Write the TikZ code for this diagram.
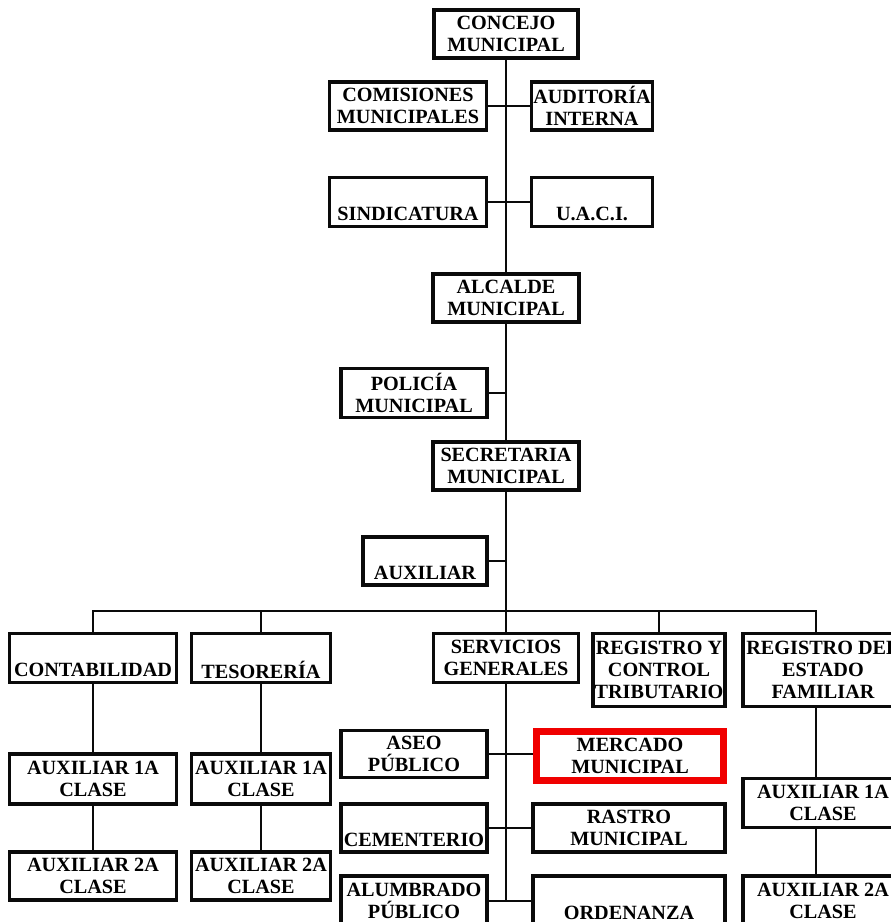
\documentclass[tikz,border=0pt]{standalone}
\usepackage{fontspec}
\setmainfont{Liberation Serif}
\usetikzlibrary{positioning}
\usepackage{xcolor}
\definecolor{lineblack}{RGB}{10,10,10}
\definecolor{markred}{RGB}{240,0,0}

\begin{document}
\begin{tikzpicture}[x=0.02cm, y=-0.02cm,
  font=\bfseries\fontsize{11.5}{12.6}\selectfont,
  unit/.style={rectangle, draw=lineblack, fill=white, line width=2pt, inner sep=0pt, align=center, minimum height=0.96cm},
  link/.style={draw=lineblack, line width=1.6pt}]
\useasboundingbox (0,0) rectangle (891,922);
\clip (0,0) rectangle (891,922);
\fill[white] (0,0) rectangle (891,922);

% upper column
\node[unit, minimum width=2.88cm] (concejo) at (506,34) {CONCEJO\\MUNICIPAL};
\node[unit, minimum width=3.14cm] (comisiones) at (408,106) {COMISIONES\\MUNICIPALES};
\node[unit, minimum width=2.42cm] (auditoria) at (592,106) {AUDITORÍA\\INTERNA};
\node[unit, minimum width=3.14cm, minimum height=0.98cm] (sindicatura) at (408,202) {\strut\\SINDICATURA};
\node[unit, minimum width=2.42cm, minimum height=0.98cm] (uaci) at (592,202) {\strut\\U.A.C.I.};
\node[unit, minimum width=2.92cm] (alcalde) at (506,298) {ALCALDE\\MUNICIPAL};
\node[unit, minimum width=2.92cm, minimum height=0.98cm] (policia) at (414,393) {POLICÍA\\MUNICIPAL};
\node[unit, minimum width=2.92cm] (secretaria) at (506,466) {SECRETARIA\\MUNICIPAL};
\node[unit, minimum width=2.48cm] (auxiliar) at (425,561) {\strut\\AUXILIAR};
\draw[link] (concejo) -- (alcalde);
\draw[link] (alcalde) -- (secretaria);
\draw[link] (comisiones) -- (auditoria);
\draw[link] (sindicatura) -- (uaci);
\draw[link] (policia) -- (policia -| alcalde);
\draw[link] (auxiliar) -- (auxiliar -| secretaria);

% departments
\node[unit, minimum width=3.34cm, minimum height=0.98cm] (contabilidad) at (93,658) {\strut\\CONTABILIDAD};
\node[unit, minimum width=2.78cm, minimum height=0.98cm] (tesoreria) at (261,658) {\strut\\TESORERÍA};
\node[unit, minimum width=2.9cm, minimum height=0.98cm] (servicios) at (506,658) {SERVICIOS\\GENERALES};
\node[unit, minimum width=2.64cm, minimum height=1.46cm] (registrotrib) at (659,670) {REGISTRO Y\\CONTROL\\TRIBUTARIO};
\node[unit, minimum width=3.2cm, minimum height=1.46cm] (registrofam) at (823,670) {REGISTRO DEL\\ESTADO\\FAMILIAR};
\coordinate (famdrop) at (816,611);
\draw[link] (secretaria) -- (servicios);
\draw[link] (contabilidad) |- (famdrop) -- (famdrop |- registrofam.north);
\draw[link] (tesoreria) -- (tesoreria |- famdrop);
\draw[link] (registrotrib) -- (registrotrib |- famdrop);

% auxiliaries
\node[unit, minimum width=3.34cm, minimum height=1.0cm] (contaux1) at (93,779) {AUXILIAR 1A\\CLASE};
\node[unit, minimum width=3.34cm] (contaux2) at (93,876) {AUXILIAR 2A\\CLASE};
\node[unit, minimum width=2.78cm, minimum height=1.0cm] (tesoaux1) at (261,779) {AUXILIAR 1A\\CLASE};
\node[unit, minimum width=2.78cm] (tesoaux2) at (261,876) {AUXILIAR 2A\\CLASE};
\node[unit, minimum width=3.2cm, minimum height=0.98cm] (famaux1) at (823,803) {AUXILIAR 1A\\CLASE};
\node[unit, minimum width=3.2cm, minimum height=1.0cm] (famaux2) at (823,901) {AUXILIAR 2A\\CLASE};
\draw[link] (contabilidad) -- (contaux1);
\draw[link] (contaux1) -- (contaux2);
\draw[link] (tesoreria) -- (tesoaux1);
\draw[link] (tesoaux1) -- (tesoaux2);
\draw[link] (famdrop |- registrofam.south) -- (famdrop |- famaux1.north);
\draw[link] (famdrop |- famaux1.south) -- (famdrop |- famaux2.north);

% general services
\node[unit, minimum width=2.92cm, minimum height=0.94cm] (aseo) at (414,754) {ASEO\\PÚBLICO};
\node[unit, draw=markred, line width=4pt, minimum width=3.74cm, minimum height=0.98cm] (mercado) at (630,756) {MERCADO\\MUNICIPAL};
\node[unit, minimum width=2.92cm] (cementerio) at (414,828) {\strut\\CEMENTERIO};
\node[unit, minimum width=3.84cm] (rastro) at (629,828) {RASTRO\\MUNICIPAL};
\node[unit, minimum width=2.92cm, minimum height=1.0cm] (alumbrado) at (414,901) {ALUMBRADO\\PÚBLICO};
\node[unit, minimum width=3.84cm, minimum height=1.0cm] (ordenanza) at (629,901) {\strut\\ORDENANZA};
\draw[link] (servicios) -- (servicios |- alumbrado);
\draw[link] (aseo.east) -- (aseo.east -| mercado.west);
\draw[link] (cementerio) -- (rastro);
\draw[link] (alumbrado) -- (ordenanza);
\end{tikzpicture}
\end{document}
